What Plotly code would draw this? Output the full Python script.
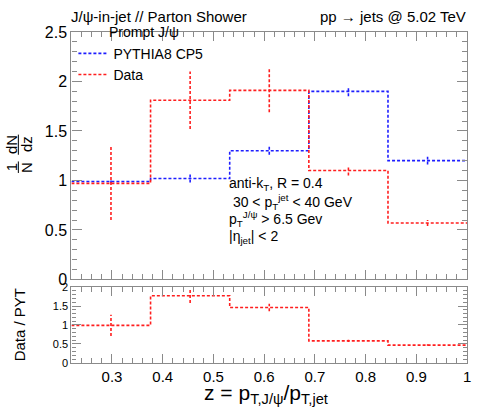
import plotly.graph_objects as go

# ---- data ----
bin_edges = [0.22, 0.376, 0.532, 0.688, 0.844, 1.0]
pythia_vals = [0.99, 1.02, 1.30, 1.90, 1.20]
pythia_errs = [0.02, 0.04, 0.04, 0.05, 0.04]
data_vals = [0.97, 1.81, 1.91, 1.10, 0.57]
data_errs = [0.37, 0.29, 0.22, 0.05, 0.03]
ratio_vals = [0.99, 1.77, 1.46, 0.58, 0.47]
ratio_errs = [0.28, 0.19, 0.10, 0.03, 0.02]
y_ticks_top = [0, 0.5, 1, 1.5, 2, 2.5]
y_ticks_ratio = [0, 0.5, 1, 1.5, 2]
x_ticks = [0.3, 0.4, 0.5, 0.6, 0.7, 0.8, 0.9, 1.0]

W, H = 488, 416
def px(x):
    return x / W
def py(y):
    return 1 - y / H

BLUE = "rgb(30,30,255)"
RED = "rgb(255,30,30)"
DASH = "3px,2px"
FONT = "Liberation Sans, Arial, sans-serif"
GRAY = "#8a8a8a"

centers = [(bin_edges[i] + bin_edges[i + 1]) / 2 for i in range(len(bin_edges) - 1)]

def step(vals):
    return list(bin_edges), list(vals) + [vals[-1]]

def err_segments(vals, errs):
    xs, ys = [], []
    for c, v, e in zip(centers, vals, errs):
        xs += [c, c, None]
        ys += [v - e, v + e, None]
    return xs, ys

fig = go.Figure()

# top panel
sx, sy = step(pythia_vals)
fig.add_trace(go.Scatter(x=sx, y=sy, mode="lines", line_shape="hv", name="PYTHIA8 CP5",
                         line=dict(color=BLUE, width=1.6, dash=DASH), xaxis="x", yaxis="y"))
ex, ey = err_segments(pythia_vals, pythia_errs)
fig.add_trace(go.Scatter(x=ex, y=ey, mode="lines", showlegend=False,
                         line=dict(color=BLUE, width=1.6, dash=DASH), xaxis="x", yaxis="y"))
sx, sy = step(data_vals)
fig.add_trace(go.Scatter(x=sx, y=sy, mode="lines", line_shape="hv", name="Data",
                         line=dict(color=RED, width=1.6, dash=DASH), xaxis="x", yaxis="y"))
ex, ey = err_segments(data_vals, data_errs)
fig.add_trace(go.Scatter(x=ex, y=ey, mode="lines", showlegend=False,
                         line=dict(color=RED, width=1.6, dash=DASH), xaxis="x", yaxis="y"))

# ratio panel
sx, sy = step(ratio_vals)
fig.add_trace(go.Scatter(x=sx, y=sy, mode="lines", line_shape="hv", showlegend=False,
                         line=dict(color=RED, width=1.6, dash=DASH), xaxis="x2", yaxis="y2"))
ex, ey = err_segments(ratio_vals, ratio_errs)
fig.add_trace(go.Scatter(x=ex, y=ey, mode="lines", showlegend=False,
                         line=dict(color=RED, width=1.6, dash=DASH), xaxis="x2", yaxis="y2"))

xdom = [px(72), px(471)]
common_x = dict(domain=xdom, range=[0.22, 1.0], tickvals=x_ticks, ticks="inside", ticklen=9,
                tickcolor=GRAY, showline=True, linecolor=GRAY, linewidth=1.2, mirror="allticks",
                showgrid=False, zeroline=False,
                minor=dict(ticks="inside", ticklen=5, dtick=0.02, tick0=0, tickcolor=GRAY, showgrid=False))

fig.update_layout(
    width=W, height=H, autosize=False,
    margin=dict(l=0, r=0, t=0, b=0),
    paper_bgcolor="white", plot_bgcolor="white",
    font=dict(family=FONT, color="black"),
    xaxis=dict(common_x, anchor="y", showticklabels=False),
    yaxis=dict(domain=[py(283), py(25)], range=[0, 2.5], tickvals=y_ticks_top,
               ticktext=["0", "0.5", "1", "1.5", "2", "2.5"],
               ticks="inside", ticklen=10, tickcolor=GRAY, showline=True, linecolor=GRAY,
               linewidth=1.2, mirror="allticks", showgrid=False, zeroline=False, anchor="x",
               tickfont=dict(size=16, family=FONT),
               minor=dict(ticks="inside", ticklen=5, dtick=0.1, tick0=0, tickcolor=GRAY, showgrid=False)),
    xaxis2=dict(common_x, anchor="y2", showticklabels=True,
                ticktext=["0.3", "0.4", "0.5", "0.6", "0.7", "0.8", "0.9", "1"],
                tickfont=dict(size=15, family=FONT)),
    yaxis2=dict(domain=[py(370), py(291)], range=[0, 2], tickvals=y_ticks_ratio,
                ticktext=["0", "0.5", "1", "1.5", "2"],
                ticks="inside", ticklen=9, tickcolor=GRAY, showline=True, linecolor=GRAY,
                linewidth=1.2, mirror="allticks", showgrid=False, zeroline=False, anchor="x2",
                tickfont=dict(size=11, family=FONT),
                minor=dict(ticks="inside", ticklen=4, dtick=0.1, tick0=0, tickcolor=GRAY, showgrid=False)),
    legend=dict(x=px(74), y=py(31), xanchor="left", yanchor="top", bgcolor="rgba(0,0,0,0)",
                font=dict(size=14, family=FONT), itemwidth=30, tracegroupgap=0),
    showlegend=True,
)

ann = []
def add_text(text, x, y, size=15, xanchor="left", yanchor="middle", angle=0):
    ann.append(dict(text=text, x=px(x), y=py(y), xref="paper", yref="paper", showarrow=False,
                    xanchor=xanchor, yanchor=yanchor, textangle=angle,
                    font=dict(size=size, family=FONT, color="black")))

add_text("J/ψ-in-jet // Parton Shower", 70, 9, size=15)
add_text("pp → jets @ 5.02 TeV", 472, 9, size=15, xanchor="right")
add_text("Prompt J/ψ", 108, 25, size=14)
add_text("anti-k<sub>T</sub>, R = 0.4", 229, 184, size=14)
add_text(" 30 &lt; p<sub>T</sub><sup>jet</sup> &lt; 40 GeV", 229, 202, size=14)
add_text("p<sub>T</sub><sup>J/ψ</sup> &gt; 6.5 Gev", 229, 220, size=14)
add_text("|η<sub>jet</sub>| &lt; 2", 229, 239, size=14)
add_text("z = p<sub>T,J/ψ</sub>/p<sub>T,jet</sub>", 268, 402, size=21, xanchor="center")
add_text("Data / PYT", 20, 330, size=15, xanchor="center", angle=-90)
# fraction y title
add_text("dN", 11, 142, size=15, xanchor="center", angle=-90)
add_text("dz", 26, 142, size=15, xanchor="center", angle=-90)
add_text("1", 11, 166, size=15, xanchor="center", angle=-90)
add_text("N", 26, 166, size=15, xanchor="center", angle=-90)
fig.update_layout(annotations=ann)

fig.update_layout(shapes=[
    dict(type="line", xref="paper", yref="paper", x0=px(18.5), x1=px(18.5), y0=py(132), y1=py(153),
         line=dict(color="black", width=1)),
    dict(type="line", xref="paper", yref="paper", x0=px(18.5), x1=px(18.5), y0=py(160), y1=py(172),
         line=dict(color="black", width=1)),
])

fig.write_html("out.html", config={"displayModeBar": False},
               post_script="document.body.style.margin='0';document.body.style.padding='0';")
